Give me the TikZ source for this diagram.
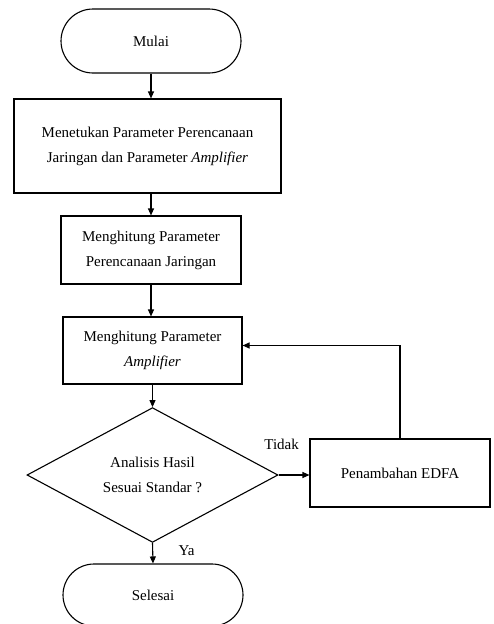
\documentclass[tikz,border=0pt]{standalone}
\usepackage{fontspec}
\setmainfont{Liberation Serif}
\usetikzlibrary{arrows.meta,shapes.geometric,shapes.misc}

\begin{document}
\begin{tikzpicture}[x=1pt,y=-1pt,>={Triangle[length=7pt,width=6pt]},line width=1.1pt,every node/.style={font=\fontsize{15}{25}\selectfont},proc/.style={draw,rectangle,align=center,inner sep=0pt},term/.style={draw,rounded rectangle,minimum width=180pt,minimum height=64pt,inner sep=0pt},cond/.style={draw,diamond,align=center,inner sep=0pt,minimum width=251pt,minimum height=121pt},flow/.style={->}]
\path[use as bounding box] (0,0) rectangle (494,624);

\node[term] (mulai) at (151,41) {Mulai};
\node[proc,minimum width=267pt,minimum height=94pt] (tentukan) at (147.5,146) {Menetukan Parameter Perencanaan\\Jaringan dan Parameter \textit{Amplifier}};
\node[proc,minimum width=180pt,minimum height=68pt] (hitungjar) at (151,250) {Menghitung Parameter\\Perencanaan Jaringan};
\node[proc,minimum width=179pt,minimum height=67pt] (hitungamp) at (152.5,350.5) {Menghitung Parameter\\\textit{Amplifier}};
\node[cond] (analisis) at (152.5,475) {Analisis Hasil\\Sesuai Standar ?};
\node[proc,minimum width=180pt,minimum height=68pt] (edfa) at (400,473) {Penambahan EDFA};
\node[term,minimum height=62pt] (selesai) at (153,595) {Selesai};

\draw[flow] (mulai.south) -- (mulai.south |- tentukan.north);
\draw[flow] (hitungjar.north |- tentukan.south) -- (hitungjar.north);
\draw[flow] (hitungjar.south) -- (hitungjar.south |- hitungamp.north);
\draw[flow] (hitungamp.south) -- (analisis.north);
\draw[flow] (analisis.east) -- (analisis.east -| edfa.west) node[pos=.1,above=21pt] (tidak) {Tidak};
\draw[flow] (edfa.north) |- ([yshift=5pt]hitungamp.east);
\draw[flow] (analisis.south) -- (selesai.north) node[midway,right=22pt,yshift=3pt] (ya) {Ya};

\end{tikzpicture}
\end{document}
